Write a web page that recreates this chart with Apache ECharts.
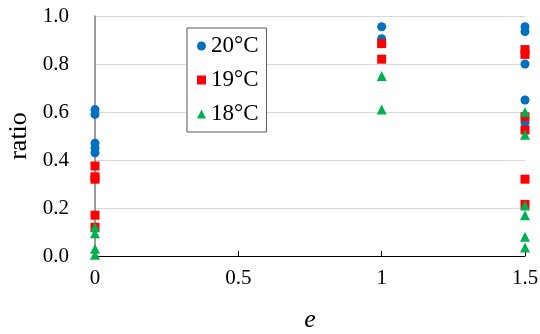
<!DOCTYPE html>
<html>
<head>
<meta charset="utf-8">
<script src="https://cdn.jsdelivr.net/npm/echarts@6/dist/echarts.min.js"></script>
<style>
html, body { margin: 0; padding: 0; background: #fff; }
#chart { width: 540px; height: 334px; }
</style>
</head>
<body>
<div id="chart"></div>
<script>
// e values and ratios, one pair of arrays per temperature
var e20 = [0, 0, 0, 0, 0, 1, 1, 1.5, 1.5, 1.5, 1.5, 1.5];
var r20 = [0.61, 0.59, 0.47, 0.45, 0.43, 0.955, 0.905, 0.955, 0.935, 0.80, 0.65, 0.555];

var e19 = [0, 0, 0, 0, 0, 1, 1, 1.5, 1.5, 1.5, 1.5, 1.5, 1.5];
var r19 = [0.375, 0.33, 0.32, 0.17, 0.12, 0.885, 0.82, 0.86, 0.84, 0.58, 0.525, 0.32, 0.215];

var e18 = [0, 0, 0, 0, 1, 1, 1.5, 1.5, 1.5, 1.5, 1.5, 1.5];
var r18 = [0.12, 0.095, 0.03, 0.005, 0.75, 0.61, 0.60, 0.505, 0.21, 0.17, 0.08, 0.035];

var names = ['20°C', '19°C', '18°C'];
var colors = ['#0070C0', '#FF0000', '#00B050'];
var shapes = ['circle', 'rect', 'triangle'];

function pairs(xs, ys) {
  var res = [];
  for (var i = 0; i < xs.length; i++) {
    res.push([xs[i], ys[i]]);
  }
  return res;
}

var myChart = echarts.init(document.getElementById('chart'));
var font = '"Liberation Serif", "Times New Roman", serif';

var option = {
  animation: false,
  textStyle: { fontFamily: font },
  grid: { left: 95, right: 15, top: 16, bottom: 78, containLabel: false, outerBoundsMode: 'none' },
  legend: {
    orient: 'vertical',
    left: 187,
    top: 28,
    padding: [6, 8, 6, 10],
    itemGap: 10,
    itemWidth: 9,
    itemHeight: 9,
    borderColor: '#595959',
    borderWidth: 1,
    backgroundColor: '#fff',
    textStyle: { fontFamily: font, fontSize: 23, lineHeight: 24, color: '#000' },
    data: names.map(function (n, i) { return { name: n, icon: shapes[i] }; })
  },
  xAxis: {
    type: 'value',
    min: 0,
    max: 1.5,
    interval: 0.5,
    name: 'e',
    nameLocation: 'middle',
    nameGap: 51,
    nameTextStyle: { fontFamily: font, fontSize: 26, fontStyle: 'italic', color: '#000' },
    axisLine: { onZero: false, lineStyle: { color: '#000', width: 1 } },
    axisTick: { show: true, inside: true, length: 5, lineStyle: { color: '#000' } },
    axisLabel: { fontFamily: font, fontSize: 21, color: '#000', margin: 12 },
    splitLine: { show: false }
  },
  yAxis: {
    type: 'value',
    min: 0,
    max: 1,
    interval: 0.2,
    name: 'ratio',
    nameLocation: 'middle',
    nameGap: 57,
    nameRotate: 90,
    nameTextStyle: { fontFamily: font, fontSize: 26, color: '#000' },
    axisLine: { show: true, onZero: false, lineStyle: { color: '#7a7a7a', width: 1.5 } },
    axisTick: { show: false },
    axisLabel: {
      fontFamily: font, fontSize: 21, color: '#000', margin: 26,
      formatter: function (v) { return v.toFixed(1); }
    },
    splitLine: { show: true, lineStyle: { color: '#d9d9d9', width: 1 } }
  },
  series: [
    { name: names[0], type: 'scatter', symbol: shapes[0], symbolSize: 9,
      itemStyle: { color: colors[0], opacity: 1 }, data: pairs(e20, r20), z: 3 },
    { name: names[1], type: 'scatter', symbol: shapes[1], symbolSize: 9,
      itemStyle: { color: colors[1], opacity: 1 }, data: pairs(e19, r19), z: 4 },
    { name: names[2], type: 'scatter', symbol: shapes[2], symbolSize: 10,
      itemStyle: { color: colors[2], opacity: 1 }, data: pairs(e18, r18), z: 5 }
  ]
};
myChart.setOption(option);
</script>
</body>
</html>
